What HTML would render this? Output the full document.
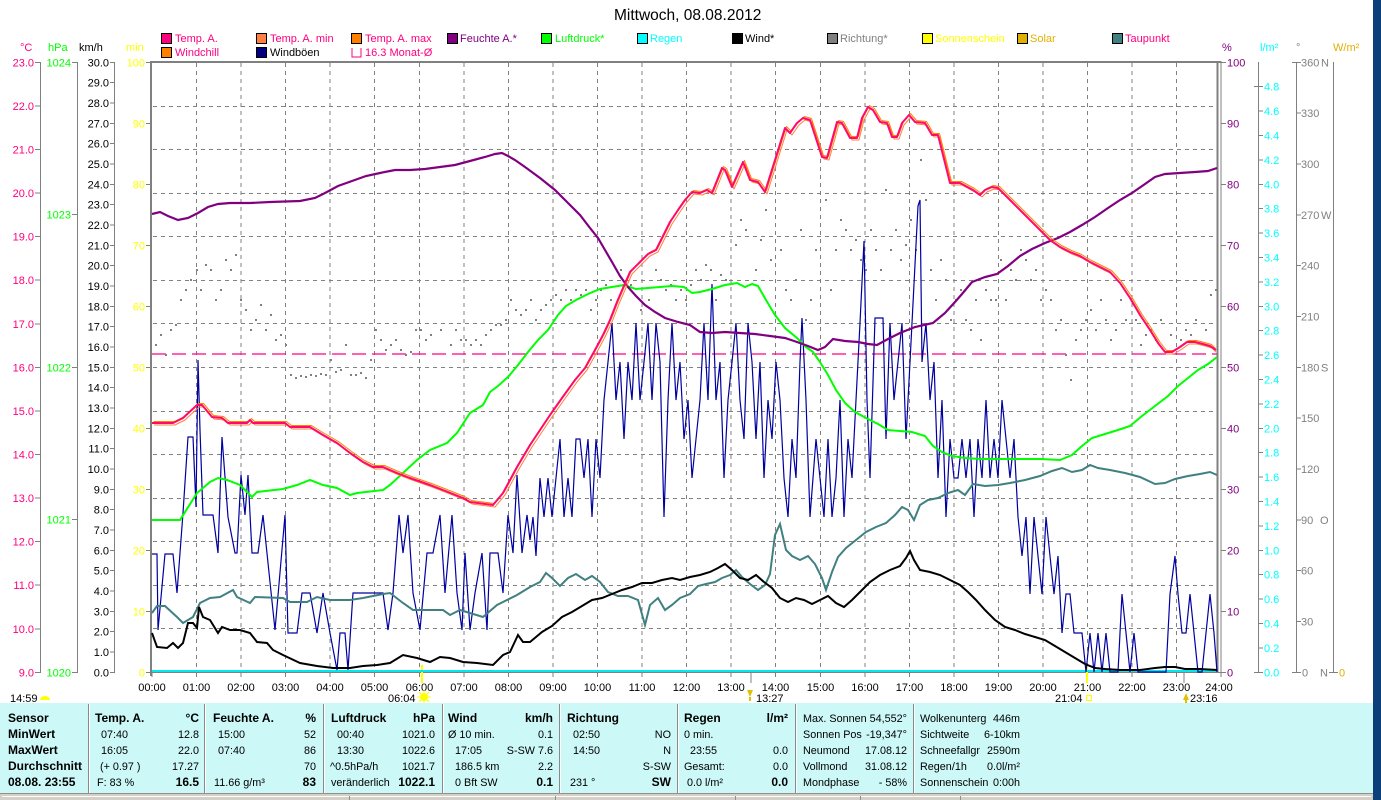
<!DOCTYPE html>
<html><head><meta charset="utf-8"><style>
html,body{margin:0;padding:0;background:#fff;overflow:hidden;}
svg{display:block;font-family:"Liberation Sans",Arial,sans-serif;}
</style></head><body>
<svg width="1381" height="800" viewBox="0 0 1381 800" xmlns="http://www.w3.org/2000/svg">
<rect width="1381" height="800" fill="#fff"/>
<rect x="1373" y="0" width="8" height="800" fill="#0b3f7a"/>

<!-- Title -->
<text x="614" y="20" font-size="15.5" fill="#000">Mittwoch, 08.08.2012</text>

<!-- Legend -->
<g font-size="11">
<rect x="161.5" y="33.5" width="10" height="10" fill="#ff0080" stroke="#000"/><text x="175" y="42" fill="#ff0080">Temp. A.</text>
<rect x="256.5" y="33.5" width="10" height="10" fill="#ff8040" stroke="#000"/><text x="270" y="42" fill="#ff0080">Temp. A. min</text>
<rect x="351.5" y="33.5" width="10" height="10" fill="#ff8000" stroke="#000"/><text x="365" y="42" fill="#ff0080">Temp. A. max</text>
<rect x="447.5" y="33.5" width="10" height="10" fill="#800080" stroke="#000"/><text x="460" y="42" fill="#800080">Feuchte A.*</text>
<rect x="541.5" y="33.5" width="10" height="10" fill="#00ff00" stroke="#000"/><text x="555" y="42" fill="#00ff00">Luftdruck*</text>
<rect x="637.5" y="33.5" width="10" height="10" fill="#00ffff" stroke="#000"/><text x="650" y="42" fill="#00ffff">Regen</text>
<rect x="732.5" y="33.5" width="10" height="10" fill="#000" stroke="#000"/><text x="745" y="42" fill="#000">Wind*</text>
<rect x="827.5" y="33.5" width="10" height="10" fill="#808080" stroke="#000"/><text x="840" y="42" fill="#808080">Richtung*</text>
<rect x="922.5" y="33.5" width="10" height="10" fill="#ffff00" stroke="#000"/><text x="935" y="42" fill="#ffff00">Sonnenschein</text>
<rect x="1017.5" y="33.5" width="10" height="10" fill="#e0b000" stroke="#000"/><text x="1030" y="42" fill="#e0b000">Solar</text>
<rect x="1112.5" y="33.5" width="10" height="10" fill="#408080" stroke="#000"/><text x="1125" y="42" fill="#ff0080">Taupunkt</text>
<rect x="161.5" y="47.5" width="10" height="10" fill="#ff8000" stroke="#000"/><text x="175" y="56" fill="#ff0080">Windchill</text>
<rect x="256.5" y="47.5" width="10" height="10" fill="#000080" stroke="#000"/><text x="270" y="56" fill="#000">Windböen</text>
<path d="M352 48v9h9v-9" fill="none" stroke="#ff0080"/><text x="365" y="56" fill="#ff0080">16.3 Monat-Ø</text>
</g>

<!-- axis headers -->
<g font-size="11">
<text x="20" y="51" fill="#ff0080">°C</text>
<text x="48" y="51" fill="#00ff00">hPa</text>
<text x="79" y="51" fill="#000">km/h</text>
<text x="126" y="51" fill="#ffff00">min</text>
<text x="1222" y="51" fill="#800080">%</text>
<text x="1260" y="51" fill="#00ffff">l/m²</text>
<text x="1296" y="51" fill="#808080">°</text>
<text x="1333" y="51" fill="#e0b000">W/m²</text>
</g>

<!-- grid -->
<g stroke="#808080" stroke-width="1" stroke-dasharray="4,4" fill="none">
<path d="M196.5 63V671M241 63V671M285.5 63V671M330 63V671M374.5 63V671M419.5 63V671M464 63V671M508.5 63V671M553 63V671M597.5 63V671M642 63V671M686.5 63V671M731 63V671M775.5 63V671M820.5 63V671M865 63V671M909.5 63V671M954 63V671M998.5 63V671M1043 63V671M1087.5 63V671M1132 63V671M1176.5 63V671"/>
<path d="M153 106.5H1216M153 149.5H1216M153 193.5H1216M153 236.5H1216M153 280.5H1216M153 323.5H1216M153 367.5H1216M153 411.5H1216M153 454.5H1216M153 498.5H1216M153 541.5H1216M153 585.5H1216M153 628.5H1216"/>
</g>

<!-- left axes -->
<g stroke="#808080" stroke-width="1" fill="none">
<path d="M40.5 62V673M35 62.5h6M35 106h6M35 149.5h6M35 193h6M35 236.5h6M35 280h6M35 324h6M35 367.5h6M35 411h6M35 454.5h6M35 498h6M35 541.5h6M35 585h6M35 629h6M35 672.5h6"/>
<path d="M77.5 62V673M72 62.5h6M72 214.5h6M72 367.5h6M72 519.5h6M72 672.5h6"/>
<path d="M114.5 62V673M110 62.5h5M110 82.5h5M110 103h5M110 123.5h5M110 143.5h5M110 164h5M110 184.5h5M110 204.5h5M110 225h5M110 245.5h5M110 265.5h5M110 286h5M110 306.5h5M110 326.5h5M110 347h5M110 367.5h5M110 387.5h5M110 408h5M110 428.5h5M110 448.5h5M110 469h5M110 489.5h5M110 509.5h5M110 530h5M110 550.5h5M110 570.5h5M110 591h5M110 611.5h5M110 631.5h5M110 652h5M110 672.5h5"/>
<path d="M146 62.5h5M146 123.5h5M146 184.5h5M146 245.5h5M146 306.5h5M146 367.5h5M146 428.5h5M146 489.5h5M146 550.5h5M146 611.5h5M146 672.5h5"/>
</g>
<g font-size="11" text-anchor="end">
<g fill="#ff0080">
<text x="34" y="66.5">23.0</text><text x="34" y="110">22.0</text><text x="34" y="153.5">21.0</text><text x="34" y="197">20.0</text><text x="34" y="240.5">19.0</text><text x="34" y="284">18.0</text><text x="34" y="328">17.0</text><text x="34" y="371.5">16.0</text><text x="34" y="415">15.0</text><text x="34" y="458.5">14.0</text><text x="34" y="502">13.0</text><text x="34" y="545.5">12.0</text><text x="34" y="589">11.0</text><text x="34" y="633">10.0</text><text x="34" y="676.5">9.0</text>
</g>
<g fill="#00ff00">
<text x="71" y="66.5">1024</text><text x="71" y="218.5">1023</text><text x="71" y="371.5">1022</text><text x="71" y="523.5">1021</text><text x="71" y="676.5">1020</text>
</g>
<g fill="#000">
<text x="109" y="66.5">30.0</text><text x="109" y="86.7">29.0</text><text x="109" y="107.1">28.0</text><text x="109" y="127.4">27.0</text><text x="109" y="147.7">26.0</text><text x="109" y="168">25.0</text><text x="109" y="188.4">24.0</text><text x="109" y="208.7">23.0</text><text x="109" y="229">22.0</text><text x="109" y="249.4">21.0</text><text x="109" y="269.7">20.0</text><text x="109" y="290">19.0</text><text x="109" y="310.4">18.0</text><text x="109" y="330.7">17.0</text><text x="109" y="351">16.0</text><text x="109" y="371.3">15.0</text><text x="109" y="391.7">14.0</text><text x="109" y="412">13.0</text><text x="109" y="432.3">12.0</text><text x="109" y="452.7">11.0</text><text x="109" y="473">10.0</text><text x="109" y="493.3">9.0</text><text x="109" y="513.7">8.0</text><text x="109" y="534">7.0</text><text x="109" y="554.3">6.0</text><text x="109" y="574.7">5.0</text><text x="109" y="595">4.0</text><text x="109" y="615.3">3.0</text><text x="109" y="635.7">2.0</text><text x="109" y="656">1.0</text><text x="109" y="676.3">0.0</text>
</g>
<g fill="#ffff00">
<text x="145" y="66.5">100</text><text x="145" y="127.5">90</text><text x="145" y="188.5">80</text><text x="145" y="249.5">70</text><text x="145" y="310.5">60</text><text x="145" y="371.5">50</text><text x="145" y="432.5">40</text><text x="145" y="493.5">30</text><text x="145" y="554.5">20</text><text x="145" y="615.5">10</text><text x="145" y="676.5">0</text>
</g>
</g>

<!-- right axes -->
<g stroke="#808080" stroke-width="1" fill="none">
<path d="M1221 62.5h5M1221 123.5h5M1221 184.5h5M1221 245.5h5M1221 306.5h5M1221 367.5h5M1221 428.5h5M1221 489.5h5M1221 550.5h5M1221 611.5h5M1221 672.5h5"/>
<path d="M1258.5 62V673M1254 86.5h5M1254 672.5h5M1259 86.5h4M1259 111h4M1259 135.5h4M1259 160h4M1259 184.5h4M1259 208.5h4M1259 233h4M1259 257.5h4M1259 282h4M1259 306.5h4M1259 330.5h4M1259 355h4M1259 379.5h4M1259 404h4M1259 428.5h4M1259 452.5h4M1259 477h4M1259 501.5h4M1259 526h4M1259 550.5h4M1259 574.5h4M1259 599h4M1259 623.5h4M1259 648h4M1259 672.5h4"/>
<path d="M1296.5 62V673M1292 62.5h9M1297 113h4M1297 164h4M1297 215h4M1297 265.5h4M1297 316.5h4M1297 367.5h4M1297 418h4M1297 469h4M1297 520h4M1297 570.5h4M1297 621.5h4M1292 672.5h9"/>
<path d="M1333.5 62V673M1329 672.5h9"/>
</g>
<g font-size="11">
<g fill="#800080">
<text x="1227" y="66.5">100</text><text x="1227" y="127.5">90</text><text x="1227" y="188.5">80</text><text x="1227" y="249.5">70</text><text x="1227" y="310.5">60</text><text x="1227" y="371.5">50</text><text x="1227" y="432.5">40</text><text x="1227" y="493.5">30</text><text x="1227" y="554.5">20</text><text x="1227" y="615.5">10</text><text x="1227" y="676.5">0</text>
</g>
<g fill="#00ffff">
<text x="1264" y="90.7">4.8</text><text x="1264" y="115.1">4.6</text><text x="1264" y="139.5">4.4</text><text x="1264" y="163.9">4.2</text><text x="1264" y="188.3">4.0</text><text x="1264" y="212.7">3.8</text><text x="1264" y="237.1">3.6</text><text x="1264" y="261.5">3.4</text><text x="1264" y="285.9">3.2</text><text x="1264" y="310.3">3.0</text><text x="1264" y="334.7">2.8</text><text x="1264" y="359.1">2.6</text><text x="1264" y="383.5">2.4</text><text x="1264" y="407.9">2.2</text><text x="1264" y="432.3">2.0</text><text x="1264" y="456.7">1.8</text><text x="1264" y="481.1">1.6</text><text x="1264" y="505.5">1.4</text><text x="1264" y="529.9">1.2</text><text x="1264" y="554.3">1.0</text><text x="1264" y="578.7">0.8</text><text x="1264" y="603.1">0.6</text><text x="1264" y="627.5">0.4</text><text x="1264" y="651.9">0.2</text><text x="1264" y="676.3">0.0</text>
</g>
<g fill="#808080">
<text x="1301" y="66.5">360</text><text x="1321" y="66.5">N</text>
<text x="1301" y="117.1">330</text><text x="1301" y="168">300</text>
<text x="1301" y="218.8">270</text><text x="1321" y="218.8">W</text>
<text x="1301" y="269.7">240</text><text x="1301" y="320.5">210</text>
<text x="1301" y="371.3">180</text><text x="1321" y="371.3">S</text>
<text x="1301" y="422.1">150</text><text x="1301" y="473">120</text>
<text x="1301" y="523.8">90</text><text x="1320" y="523.8">O</text>
<text x="1301" y="574.7">60</text><text x="1301" y="625.5">30</text>
<text x="1302" y="676.3">0</text><text x="1320" y="676.3">N</text>
</g>
<text x="1339" y="676.5" fill="#e0b000">0</text>
</g>

<!-- plot frame -->
<rect x="150" y="62" width="2" height="614" fill="#808080"/>
<rect x="150" y="61" width="1071" height="2" fill="#808080"/>
<rect x="1216.5" y="61" width="2" height="612" fill="#808080"/>
<rect x="1220.5" y="61" width="1" height="613" fill="#808080"/>
<path d="M152 672.5H1221" stroke="#808080" stroke-width="1"/>

<!-- time ticks -->
<path d="M152 672v5M196.5 672v5M241 672v5M285.5 672v5M330 672v5M374.5 672v5M419.5 672v5M464 672v5M508.5 672v5M553 672v5M597.5 672v5M642 672v5M686.5 672v5M731 672v5M775.5 672v5M820.5 672v5M865 672v5M909.5 672v5M954 672v5M998.5 672v5M1043 672v5M1087.5 672v5M1132 672v5M1176.5 672v5M1221 672v5" stroke="#808080" stroke-width="1"/>
<g font-size="11" text-anchor="middle" fill="#000">
<text x="152" y="691">00:00</text><text x="196.5" y="691">01:00</text><text x="241" y="691">02:00</text><text x="285.5" y="691">03:00</text><text x="330" y="691">04:00</text><text x="374.5" y="691">05:00</text><text x="419.5" y="691">06:00</text><text x="464" y="691">07:00</text><text x="508.5" y="691">08:00</text><text x="553" y="691">09:00</text><text x="597.5" y="691">10:00</text><text x="642" y="691">11:00</text><text x="686.5" y="691">12:00</text><text x="731" y="691">13:00</text><text x="775.5" y="691">14:00</text><text x="820.5" y="691">15:00</text><text x="865" y="691">16:00</text><text x="909.5" y="691">17:00</text><text x="954" y="691">18:00</text><text x="998.5" y="691">19:00</text><text x="1043" y="691">20:00</text><text x="1087.5" y="691">21:00</text><text x="1132" y="691">22:00</text><text x="1176.5" y="691">23:00</text><text x="1219" y="691">24:00</text>
</g>

<!-- sun markers -->
<path d="M422 665v18M1087 665v18" stroke="#ffff00" stroke-width="2"/>
<path d="M751 672v11M1184 672v11" stroke="#808080" stroke-width="1"/>
<g font-size="11" fill="#000">
<text x="10" y="702">14:59</text>
<text x="388" y="702">06:04</text>
<text x="756" y="702">13:27</text>
<text x="1055" y="702">21:04</text>
<text x="1190" y="702">23:16</text>
</g>
<path d="M40 700a5 4 0 0 1 10 0z" fill="#ffff00"/>
<circle cx="424" cy="697" r="4" fill="#ffff00"/>
<path d="M424 690v14M417 697h14M419 692l10 10M429 692l-10 10" stroke="#ffff00" stroke-width="1"/>
<path d="M747 690h6l-3 7z M749 697h2v4h-2z" fill="#e0c000"/>
<rect x="1086.5" y="695.5" width="5" height="5" fill="none" stroke="#ffff00"/>
<path d="M1183 700h6l-3 -7z M1185 700h2v4h-2z" fill="#e0c000"/>

<!-- Monat average line -->
<path d="M152 354H1217" stroke="#ff0080" stroke-width="1.2" stroke-dasharray="14,6"/>

<!-- direction dots -->
<path stroke="#808080" stroke-width="2" fill="none" d="M155 345h2M160 335h2M165 355h2M170 330h2M175 325h2M180 300h2M185 290h2M190 280h2M196 270h2M200 290h2M205 265h2M210 270h2M215 300h2M220 290h2M225 260h2M230 270h2M235 255h2M240 300h2M245 310h2M250 330h2M255 320h2M260 305h2M265 330h2M270 315h2M275 340h2M280 335h2M285 345h2M290 375h2M295 378h2M300 376h2M305 377h2M310 375h2M315 376h2M320 374h2M325 375h2M330 360h2M335 372h2M340 370h2M345 345h2M350 375h2M355 375h2M360 373h2M365 378h2M370 360h2M375 330h2M380 340h2M385 350h2M390 345h2M395 340h2M400 350h2M405 355h2M410 352h2M415 330h2M420 330h2M425 340h2M430 335h2M440 330h2M450 345h2M455 330h2M460 340h2M465 340h2M470 345h2M475 340h2M480 345h2M485 335h2M490 330h2M495 325h2M500 325h2M505 320h2M510 300h2M515 310h2M520 315h2M525 310h2M530 300h2M535 320h2M540 310h2M545 305h2M550 300h2M555 295h2M560 300h2M565 290h2M570 300h2M575 290h2M580 295h2M585 290h2M590 310h2M595 300h2M600 290h2M605 285h2M610 300h2M620 270h2M630 285h2M640 310h2M648 300h2M655 270h2M660 280h2M665 290h2M670 285h2M675 300h2M680 290h2M685 300h2M690 285h2M695 270h2M700 280h2M705 265h2M710 270h2M715 300h2M720 275h2M725 280h2M735 245h2M740 220h2M745 230h2M755 270h2M760 240h2M765 210h2M770 260h2M780 250h2M785 290h2M790 300h2M795 280h2M800 230h2M805 320h2M810 300h2M815 250h2M825 200h2M830 290h2M835 250h2M840 220h2M845 230h2M850 250h2M855 240h2M860 260h2M865 270h2M870 230h2M875 250h2M880 270h2M885 190h2M890 250h2M895 230h2M900 260h2M905 245h2M910 220h2M915 250h2M920 160h2M925 200h2M930 270h2M935 300h2M940 260h2M945 280h2M950 320h2M955 300h2M960 290h2M965 320h2M970 330h2M975 300h2M980 340h2M985 290h2M990 300h2M995 300h2M1000 260h2M1005 300h2M1010 270h2M1015 280h2M1020 250h2M1025 260h2M1030 280h2M1035 270h2M1040 300h2M1045 290h2M1050 300h2M1055 330h2M1060 320h2M1065 355h2M1070 380h2M1075 340h2M1080 330h2M1085 320h2M1090 310h2M1095 330h2M1100 300h2M1105 320h2M1110 340h2M1115 330h2M1120 300h2M1125 320h2M1135 320h2M1140 345h2M1145 335h2M1150 330h2M1155 340h2M1160 320h2M1170 335h2M1180 340h2M1185 330h2M1190 335h2M1195 320h2M1205 330h2M1210 295h2M1215 290h2"/>

<!-- rain line -->
<path d="M152 671H1217" stroke="#00e8f0" stroke-width="2"/>

<!-- gusts -->
<polyline fill="none" stroke="#0000a0" stroke-width="1.2" stroke-linejoin="miter" points="152,554 157,554 158,630 165,554 173,554 177,593 183,513 188,437 193,437 196,507 198,360 200,430 203,515 213,515 218,553 222,437 228,517 235,553 237,553 241,475 245,515 248,475 252,553 258,553 263,515 275,630 285,515 288,633 297,633 302,593 310,593 317,633 323,593 330,633 337,670 340,633 345,633 348,670 353,593 367,593 383,593 388,630 393,593 399,515 403,553 408,515 413,593 420,630 427,553 433,553 440,515 445,593 452,515 457,593 462,630 465,553 470,630 475,593 482,553 487,630 490,553 498,553 503,593 508,515 513,553 517,475 522,553 527,515 530,540 533,517 536,556 540,478 544,517 548,478 552,517 556,478 560,439 564,517 568,478 572,517 576,439 580,439 584,478 588,439 592,517 596,439 600,478 604,400 608,362 612,323 616,400 620,362 624,439 628,362 632,400 636,323 640,400 644,362 648,323 652,400 656,323 660,362 664,517 668,400 672,323 676,400 680,362 684,439 688,400 692,478 696,439 700,400 704,323 708,400 712,284 716,400 720,362 724,478 728,400 732,362 736,323 740,400 744,439 748,323 752,362 756,439 760,362 764,478 768,400 772,439 776,362 780,400 784,478 788,517 792,439 796,478 800,362 802,318 806,400 810,517 816,439 820,478 824,517 828,439 832,517 836,478 840,400 844,517 848,439 852,478 856,400 860,323 864,241 867,400 870,478 875,318 883,318 886,439 890,323 894,400 898,362 902,323 906,439 910,362 914,284 918,206 920,200 922,362 926,323 930,400 934,362 938,478 942,400 946,517 950,439 954,478 958,478 962,439 966,478 970,439 974,517 978,439 982,478 986,400 990,478 994,439 998,478 1002,400 1006,439 1010,478 1014,439 1018,517 1022,556 1026,517 1030,594 1034,517 1038,556 1042,594 1046,517 1050,556 1054,594 1058,556 1062,633 1066,594 1070,594 1074,633 1082,633 1086,672 1090,633 1094,672 1098,633 1102,672 1106,633 1110,672 1118,672 1122,594 1126,633 1130,672 1134,633 1138,672 1166,672 1170,594 1175,556 1178,594 1182,633 1186,633 1190,594 1194,633 1198,672 1202,672 1206,633 1210,594 1214,633 1217,672"/>

<!-- dew point -->
<polyline fill="none" stroke="#408080" stroke-width="2" points="152,613 157,606 165,606 177,617 183,623 193,617 200,603 210,598 220,597 233,590 237,597 250,603 255,597 283,598 290,602 307,602 317,597 330,600 350,600 363,598 383,594 390,593 403,603 413,610 443,610 450,615 460,610 483,617 497,605 517,595 530,587 540,582 546,573 552,578 560,586 568,578 576,574 585,580 592,576 600,582 608,592 618,596 628,596 638,600 645,625 650,605 658,598 665,610 672,605 680,598 690,594 698,586 706,584 715,582 722,578 730,575 736,570 742,577 750,584 758,590 765,585 770,574 775,535 780,524 786,550 792,556 800,560 808,556 815,564 822,578 826,590 832,572 838,557 846,548 856,540 866,532 876,527 886,523 895,515 902,507 908,510 914,520 920,505 928,500 938,498 948,493 958,490 965,495 973,484 985,486 998,485 1010,483 1025,480 1040,476 1052,471 1062,468 1072,472 1082,470 1090,465 1098,468 1110,470 1125,473 1140,477 1155,484 1165,483 1175,479 1188,476 1200,474 1210,472 1217,475"/>

<!-- wind -->
<polyline fill="none" stroke="#000" stroke-width="2" points="152,633 157,647 167,648 173,643 178,648 183,643 188,623 193,623 197,628 199,607 203,617 210,620 218,633 222,627 230,630 240,630 250,633 257,642 267,643 273,650 283,655 300,663 317,666 333,668 350,668 363,666 377,665 390,663 403,655 417,658 430,662 440,657 450,658 463,662 477,663 493,665 503,655 510,652 518,635 523,642 530,642 542,632 552,626 562,617 572,612 582,606 592,600 602,598 612,594 622,590 632,587 642,583 652,583 662,580 672,578 680,580 690,577 700,575 710,572 718,568 725,564 732,570 740,578 748,580 756,575 764,582 772,588 780,598 788,602 796,598 804,600 812,604 820,600 828,596 836,603 844,607 852,600 860,592 870,582 880,575 890,570 900,566 906,558 910,551 914,560 920,570 930,572 940,575 950,580 960,585 968,592 976,600 985,610 995,620 1005,627 1015,630 1025,634 1035,637 1045,640 1055,646 1065,652 1075,658 1085,664 1095,668 1105,669 1120,670 1140,670 1155,668 1165,667 1175,667 1185,669 1200,669 1217,670"/>

<!-- pressure -->
<polyline fill="none" stroke="#00ff00" stroke-width="2" points="152,520 180,520 197,493 210,482 218,478 227,480 240,485 252,497 257,492 283,489 297,485 310,480 323,485 337,488 350,495 357,493 383,490 390,485 403,473 417,460 430,450 447,443 457,433 470,413 483,405 490,392 498,386 508,377 518,365 528,352 538,340 548,330 558,315 566,306 576,300 588,294 600,289 612,287 624,285 636,289 648,288 660,287 672,286 684,287 692,293 700,292 712,289 725,285 737,283 745,287 752,284 758,286 766,300 775,315 785,328 797,338 806,347 813,352 820,362 828,375 836,390 845,403 855,412 866,418 878,424 888,430 900,431 912,432 925,436 933,446 942,452 952,456 965,458 980,459 1000,459 1020,459 1040,459 1060,460 1072,455 1082,446 1092,438 1105,434 1118,430 1130,426 1142,416 1155,406 1168,396 1178,386 1188,378 1198,370 1208,364 1217,357"/>

<!-- humidity -->
<polyline fill="none" stroke="#800080" stroke-width="2.2" points="152,214 160,212 168,216 178,220 188,218 198,213 208,207 218,204 230,203 250,203 270,202 300,201 315,198 325,193 338,186 352,181 366,176 380,173 395,170 410,170 425,169 440,167 455,165 470,161 485,157 495,154 502,153 508,156 515,160 525,167 540,178 555,190 568,203 580,215 590,228 598,238 605,250 612,262 620,276 628,287 636,296 645,305 655,312 665,318 678,322 690,325 700,332 712,333 725,332 740,333 755,334 770,336 785,338 797,342 808,346 818,350 825,347 833,339 845,341 858,342 868,344 877,345 888,339 900,333 915,327 933,323 945,313 955,302 962,294 972,282 985,277 997,274 1008,266 1020,256 1032,249 1045,243 1058,238 1070,232 1082,225 1095,217 1108,208 1120,200 1132,193 1145,184 1155,177 1165,174 1180,173 1195,172 1208,171 1217,168"/>

<!-- temperature: min (salmon), max (orange), actual (pink) -->
<g fill="none" stroke-linejoin="round">
<polyline stroke="#ff8040" stroke-width="1" transform="translate(2,2)" points="152,423 173,423 183,418 197,405 202,405 212,417 222,418 228,423 247,423 250,420 253,423 285,423 290,427 310,427 323,435 337,443 350,453 363,462 373,467 383,467 397,473 410,478 430,485 443,490 463,498 470,502 493,505 503,493 517,467 530,445 540,430 550,415 562,398 575,380 585,368 595,350 603,335 610,320 617,302 623,288 630,272 640,262 648,254 656,250 662,238 670,222 678,210 685,200 692,192 700,193 707,190 712,193 722,168 725,170 732,187 743,162 750,180 758,182 765,192 785,128 790,133 797,123 803,118 810,120 822,157 827,158 837,122 842,123 850,138 857,138 862,118 868,107 873,110 880,122 887,123 892,137 897,137 902,123 909,115 915,122 925,123 932,135 938,135 950,183 960,183 973,190 980,195 985,190 992,187 998,188 1004,194 1012,202 1020,210 1030,220 1040,230 1050,240 1060,247 1070,252 1080,256 1090,262 1100,267 1110,272 1120,283 1130,298 1140,315 1150,330 1158,343 1165,352 1172,352 1180,347 1187,342 1195,342 1203,344 1210,346 1214,350"/>
<polyline stroke="#ff8000" stroke-width="1" transform="translate(1.5,-1.5)" points="152,423 173,423 183,418 197,405 202,405 212,417 222,418 228,423 247,423 250,420 253,423 285,423 290,427 310,427 323,435 337,443 350,453 363,462 373,467 383,467 397,473 410,478 430,485 443,490 463,498 470,502 493,505 503,493 517,467 530,445 540,430 550,415 562,398 575,380 585,368 595,350 603,335 610,320 617,302 623,288 630,272 640,262 648,254 656,250 662,238 670,222 678,210 685,200 692,192 700,193 707,190 712,193 722,168 725,170 732,187 743,162 750,180 758,182 765,192 785,128 790,133 797,123 803,118 810,120 822,157 827,158 837,122 842,123 850,138 857,138 862,118 868,107 873,110 880,122 887,123 892,137 897,137 902,123 909,115 915,122 925,123 932,135 938,135 950,183 960,183 973,190 980,195 985,190 992,187 998,188 1004,194 1012,202 1020,210 1030,220 1040,230 1050,240 1060,247 1070,252 1080,256 1090,262 1100,267 1110,272 1120,283 1130,298 1140,315 1150,330 1158,343 1165,352 1172,352 1180,347 1187,342 1195,342 1203,344 1210,346 1214,350"/>
<polyline stroke="#ff0a6a" stroke-width="2" points="152,423 173,423 183,418 197,405 202,405 212,417 222,418 228,423 247,423 250,420 253,423 285,423 290,427 310,427 323,435 337,443 350,453 363,462 373,467 383,467 397,473 410,478 430,485 443,490 463,498 470,502 493,505 503,493 517,467 530,445 540,430 550,415 562,398 575,380 585,368 595,350 603,335 610,320 617,302 623,288 630,272 640,262 648,254 656,250 662,238 670,222 678,210 685,200 692,192 700,193 707,190 712,193 722,168 725,170 732,187 743,162 750,180 758,182 765,192 785,128 790,133 797,123 803,118 810,120 822,157 827,158 837,122 842,123 850,138 857,138 862,118 868,107 873,110 880,122 887,123 892,137 897,137 902,123 909,115 915,122 925,123 932,135 938,135 950,183 960,183 973,190 980,195 985,190 992,187 998,188 1004,194 1012,202 1020,210 1030,220 1040,230 1050,240 1060,247 1070,252 1080,256 1090,262 1100,267 1110,272 1120,283 1130,298 1140,315 1150,330 1158,343 1165,352 1172,352 1180,347 1187,342 1195,342 1203,344 1210,346 1216,350"/>
</g>

<!-- bottom table -->
<rect x="0" y="703" width="1373" height="90" fill="#ccf8f7"/>
<g stroke-width="1">
<path d="M88.5 704V793M204.5 704V793M323.5 704V793M442.5 704V793M559.5 704V793M677.5 704V793M795.5 704V793M913.5 704V793" stroke="#8a8a8a"/>
<path d="M89.5 704V793M205.5 704V793M324.5 704V793M443.5 704V793M560.5 704V793M678.5 704V793M796.5 704V793M914.5 704V793" stroke="#ffffff"/>
</g>
<rect x="0" y="793" width="1373" height="7" fill="#d4d0c8"/>
<path d="M0 793.5H1373" stroke="#909090"/>
<path d="M2 796.5H1371" stroke="#ffffff"/>
<path d="M349.5 796V800M555.5 796V800M735.5 796V800M860.5 796V800M960.5 796V800" stroke="#909090"/>

<g font-size="10.8" fill="#000">
<g font-weight="bold" font-size="12">
<text x="8" y="722">Sensor</text><text x="8" y="738">MinWert</text><text x="8" y="754">MaxWert</text><text x="8" y="770">Durchschnitt</text><text x="8" y="786">08.08. 23:55</text>
<text x="95" y="722">Temp. A.</text><text x="199" y="722" text-anchor="end">°C</text>
<text x="213" y="722">Feuchte A.</text><text x="316" y="722" text-anchor="end">%</text>
<text x="331" y="722">Luftdruck</text><text x="435" y="722" text-anchor="end">hPa</text>
<text x="448" y="722">Wind</text><text x="553" y="722" text-anchor="end">km/h</text>
<text x="567" y="722">Richtung</text>
<text x="684" y="722">Regen</text><text x="788" y="722" text-anchor="end">l/m²</text>
</g>
<text x="101" y="738">07:40</text><text x="199" y="738" text-anchor="end">12.8</text>
<text x="101" y="754">16:05</text><text x="199" y="754" text-anchor="end">22.0</text>
<text x="100" y="770">(+ 0.97 )</text><text x="199" y="770" text-anchor="end">17.27</text>
<text x="97" y="786">F: 83 %</text><text x="199" y="786" text-anchor="end" font-weight="bold" font-size="12">16.5</text>
<text x="218" y="738">15:00</text><text x="316" y="738" text-anchor="end">52</text>
<text x="218" y="754">07:40</text><text x="316" y="754" text-anchor="end">86</text>
<text x="316" y="770" text-anchor="end">70</text>
<text x="214" y="786">11.66 g/m³</text><text x="316" y="786" text-anchor="end" font-weight="bold" font-size="12">83</text>
<text x="337" y="738">00:40</text><text x="435" y="738" text-anchor="end">1021.0</text>
<text x="337" y="754">13:30</text><text x="435" y="754" text-anchor="end">1022.6</text>
<text x="330" y="770">^0.5hPa/h</text><text x="435" y="770" text-anchor="end">1021.7</text>
<text x="331" y="786">veränderlich</text><text x="435" y="786" text-anchor="end" font-weight="bold" font-size="12">1022.1</text>
<text x="448" y="738">Ø 10 min.</text><text x="553" y="738" text-anchor="end">0.1</text>
<text x="455" y="754">17:05</text><text x="553" y="754" text-anchor="end">S-SW 7.6</text>
<text x="455" y="770">186.5 km</text><text x="553" y="770" text-anchor="end">2.2</text>
<text x="455" y="786">0 Bft SW</text><text x="553" y="786" text-anchor="end" font-weight="bold" font-size="12">0.1</text>
<text x="573" y="738">02:50</text><text x="671" y="738" text-anchor="end">NO</text>
<text x="573" y="754">14:50</text><text x="671" y="754" text-anchor="end">N</text>
<text x="671" y="770" text-anchor="end">S-SW</text>
<text x="570" y="786">231 °</text><text x="671" y="786" text-anchor="end" font-weight="bold" font-size="12">SW</text>
<text x="684" y="738">0 min.</text>
<text x="690" y="754">23:55</text><text x="788" y="754" text-anchor="end">0.0</text>
<text x="684" y="770">Gesamt:</text><text x="788" y="770" text-anchor="end">0.0</text>
<text x="687" y="786">0.0 l/m²</text><text x="788" y="786" text-anchor="end" font-weight="bold" font-size="12">0.0</text>
<text x="803" y="722">Max. Sonnen</text><text x="907" y="722" text-anchor="end">54,552°</text>
<text x="803" y="738">Sonnen Pos</text><text x="907" y="738" text-anchor="end">-19,347°</text>
<text x="803" y="754">Neumond</text><text x="907" y="754" text-anchor="end">17.08.12</text>
<text x="803" y="770">Vollmond</text><text x="907" y="770" text-anchor="end">31.08.12</text>
<text x="803" y="786">Mondphase</text><text x="907" y="786" text-anchor="end">- 58%</text>
<text x="920" y="722">Wolkenunterg</text><text x="1020" y="722" text-anchor="end">446m</text>
<text x="920" y="738">Sichtweite</text><text x="1020" y="738" text-anchor="end">6-10km</text>
<text x="920" y="754">Schneefallgr</text><text x="1020" y="754" text-anchor="end">2590m</text>
<text x="920" y="770">Regen/1h</text><text x="1020" y="770" text-anchor="end">0.0l/m²</text>
<text x="920" y="786">Sonnenschein</text><text x="1020" y="786" text-anchor="end">0:00h</text>
</g>
</svg>
</body></html>
